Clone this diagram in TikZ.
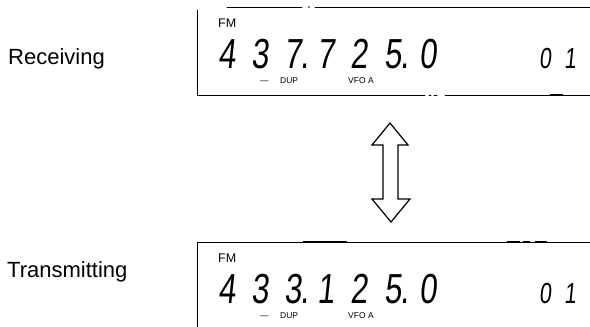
\documentclass[tikz,border=0pt]{standalone}
\usepackage{fontspec}
\setmainfont{Liberation Sans}
\newfontfamily\segfont[FakeSlant=0.14]{Liberation Sans}
\begin{document}
\begin{tikzpicture}[x=1pt,y=-1pt,
  frame/.style={line width=0.95pt,line cap=round},
  thickbit/.style={line width=2pt},
  bigdig/.style={inner sep=0pt,anchor=base,xscale=0.74,font=\segfont\fontsize{42}{42}\selectfont},
  smalldig/.style={inner sep=0pt,anchor=base,xscale=0.74,font=\segfont\fontsize{29}{29}\selectfont},
  fmlab/.style={inner sep=0pt,anchor=base west,font=\fontsize{12.5}{12.5}\selectfont},
  tinylab/.style={inner sep=0pt,anchor=base west,font=\fontsize{8.5}{8.5}\selectfont},
  sidelab/.style={inner sep=0pt,anchor=base west,font=\fontsize{22}{22}\selectfont},
  dblarrow/.style={line width=1.2pt,line join=miter}]
\useasboundingbox (0,0) rectangle (590,327);

% labels
\node[sidelab] (rx) at (8,64) {Receiving};
\node[sidelab] (tx) at (7,277) {Transmitting};

% ---------- top display ----------
\draw[frame] (197,10) -- (197,95) -- (425,95);
\draw[frame] (429,95) -- (431,95) (434,95) -- (437,95);
\draw[frame] (445,95) -- (590,95);
\draw[thickbit] (550,95) -- (563,95);
\draw[frame] (227,7) -- (302,7);
\fill (309,7) circle (0.9pt);
\draw[frame] (315,7) -- (590,7);

\node[fmlab] (fm1) at (218,27) {FM};
\node[bigdig] (a1) at (227,68) {4};
\node[bigdig] (a2) at (260,68) {3};
\node[bigdig] (a3) at (293,68) {7\rlap{\kern-2pt.}};
\node[bigdig] (a4) at (326,68) {7};
\node[bigdig] (a5) at (359,68) {2};
\node[bigdig] (a6) at (393,68) {5\rlap{\kern-1pt.}};
\node[bigdig] (a7) at (428,68) {0};
\node[smalldig] (a8) at (545,68) {0};
\node[smalldig] (a9) at (570,68) {1};
\node[tinylab] (dash1) at (260,83) {—};
\node[tinylab] (dup1) at (280,83) {DUP};
\node[tinylab] (vfo1) at (348,83) {VFO A};

% ---------- arrow ----------
\draw[dblarrow] (390,123) -- (408,145) -- (398,145) -- (398,199) -- (410,199)
  -- (391,222) -- (372,199) -- (383,199) -- (383,145) -- (372,145) -- cycle;

% ---------- bottom display ----------
\draw[frame] (197,327) -- (197,242) -- (590,242);
\draw[thickbit] (303,242) -- (347,242);
\draw[line width=1.7pt] (507,242) -- (520,242) (523,242) -- (530,242) (535,242) -- (547,242);

\node[fmlab] (fm2) at (218,262) {FM};
\node[bigdig] (b1) at (227,303) {4};
\node[bigdig] (b2) at (260,303) {3};
\node[bigdig] (b3) at (293,303) {3\rlap{\kern-2pt.}};
\node[bigdig] (b4) at (326,303) {1};
\node[bigdig] (b5) at (359,303) {2};
\node[bigdig] (b6) at (393,303) {5\rlap{\kern-1pt.}};
\node[bigdig] (b7) at (428,303) {0};
\node[smalldig] (b8) at (545,303) {0};
\node[smalldig] (b9) at (570,303) {1};
\node[tinylab] (dash2) at (260,318) {—};
\node[tinylab] (dup2) at (280,318) {DUP};
\node[tinylab] (vfo2) at (348,318) {VFO A};
\end{tikzpicture}
\end{document}
